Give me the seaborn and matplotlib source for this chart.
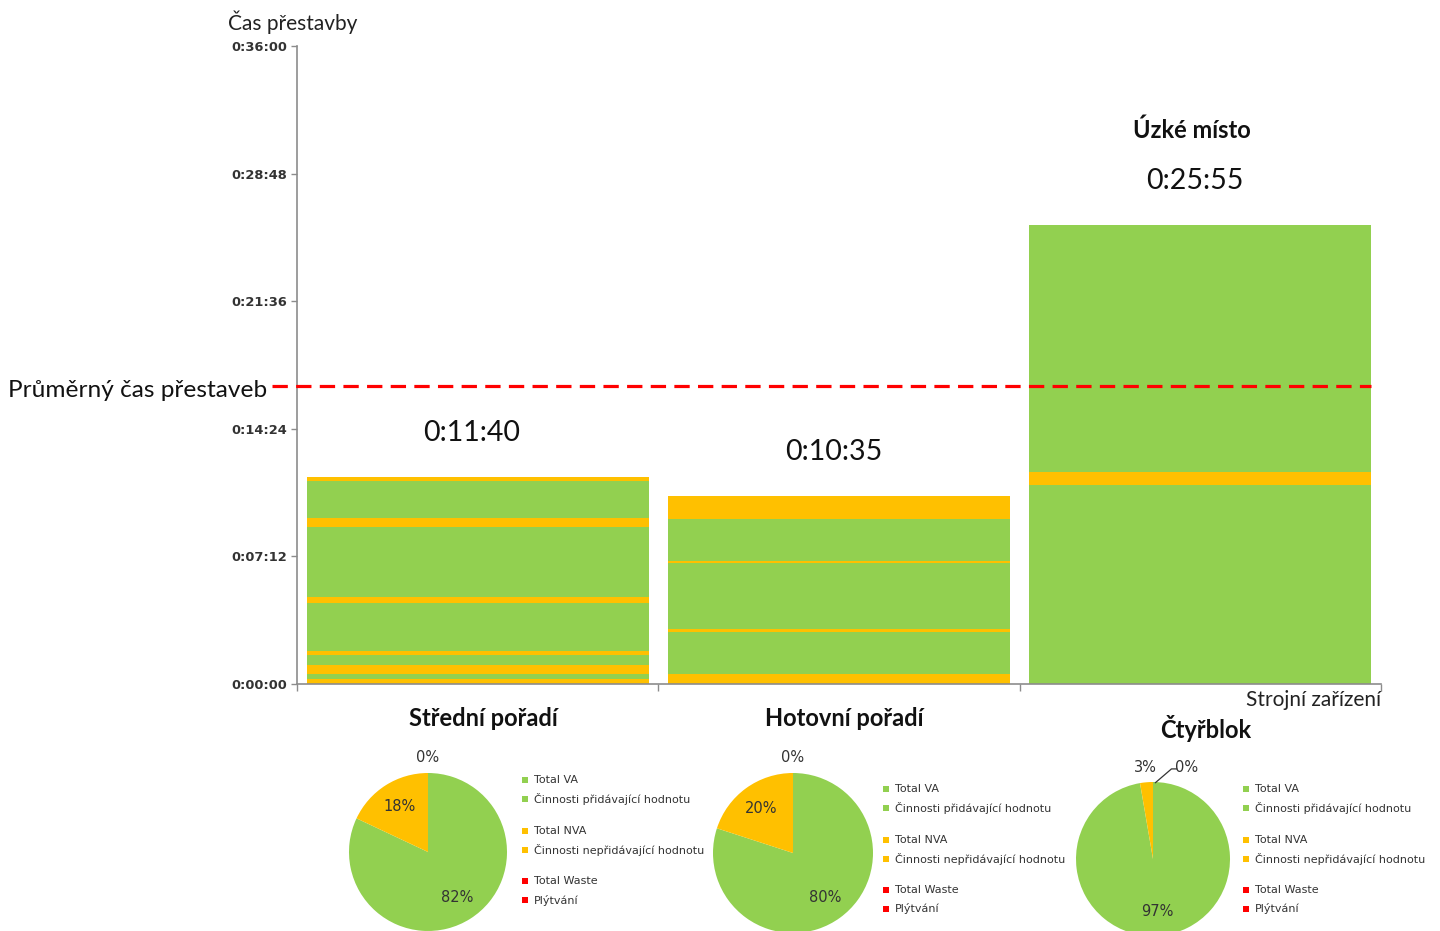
import numpy as np
import matplotlib
matplotlib.use("Agg")
import matplotlib.pyplot as plt
from matplotlib.ticker import FuncFormatter
from matplotlib.patches import Rectangle
from matplotlib.transforms import blended_transform_factory, offset_copy
import seaborn as sns

# ---- data -------------------------------------------------------------
categories = ["Střední pořadí", "Hotovní pořadí", "Čtyřblok"]

# changeover steps of each machine, bottom to top, in seconds
steps_stredni_s = [16, 17, 31, 35, 14, 160, 20, 238, 32, 124, 13]
steps_stredni_type = ["NVA", "VA", "NVA", "VA", "NVA", "VA", "NVA", "VA", "NVA", "VA", "NVA"]

steps_hotovni_s = [33, 144, 10, 223, 7, 141, 77]
steps_hotovni_type = ["NVA", "VA", "NVA", "VA", "NVA", "VA", "NVA"]

steps_ctyrblok_s = [675, 42, 838]
steps_ctyrblok_type = ["VA", "NVA", "VA"]

average_changeover_s = 1008  # 0:16:48

y_ticks_s = [0, 432, 864, 1296, 1728, 2160]

legend_labels = ["Total VA", "Činnosti přidávající hodnotu",
                 "Total NVA", "Činnosti nepřidávající hodnotu",
                 "Total Waste", "Plýtvání"]

# ---- styling ----------------------------------------------------------
GREEN, ORANGE, RED = "#92D050", "#FFC000", "#FF0000"
type_color = {"VA": GREEN, "NVA": ORANGE, "Waste": RED}

sns.set_theme(style="white")
plt.rcParams["font.family"] = ["Lato", "DejaVu Sans"]

W, H = 1440, 931
fig = plt.figure(figsize=(W / 100, H / 100), dpi=100)


def fx(px):
    return px / W


def fy(py):
    return 1 - py / H


def hms(s, _pos=None):
    s = int(round(s))
    return f"{s // 3600}:{(s % 3600) // 60:02d}:{s % 60:02d}"


# ---- main stacked bar chart --------------------------------------------
ax = fig.add_axes([fx(297), fy(684), fx(1381) - fx(297), (684 - 46) / H])

steps = [(steps_stredni_s, steps_stredni_type),
         (steps_hotovni_s, steps_hotovni_type),
         (steps_ctyrblok_s, steps_ctyrblok_type)]
bar_w = 0.947

totals = []
for cat, (secs, kinds) in zip(categories, steps):
    tops = np.cumsum(secs)
    totals.append(tops[-1])
    # draw cumulative heights from the top down so each step shows its own band
    for top, kind in zip(tops[::-1], kinds[::-1]):
        sns.barplot(x=[cat], y=[top], order=categories, color=type_color[kind],
                    saturation=1, width=bar_w, edgecolor="none", linewidth=0,
                    ax=ax)

ax.set_xlim(-0.5, 2.5)
ax.set_ylim(0, y_ticks_s[-1])
ax.set_yticks(y_ticks_s)
ax.yaxis.set_major_formatter(FuncFormatter(hms))
ax.set_xticks([-0.5, 0.5, 1.5, 2.5])
ax.set_xticklabels([])
ax.set_xlabel("")
ax.set_ylabel("")
for side in ("top", "right"):
    ax.spines[side].set_visible(False)
for side in ("left", "bottom"):
    ax.spines[side].set_color("#8c8c8c")
    ax.spines[side].set_linewidth(1.2)
ax.tick_params(axis="y", which="major", direction="out", length=4, width=1,
               color="#8c8c8c", labelsize=9.4, labelcolor="#333333", pad=3,
               left=True)
ax.tick_params(axis="x", which="major", direction="out", length=5, width=1,
               color="#8c8c8c", bottom=True)
for lab in ax.get_yticklabels():
    lab.set_fontfamily("DejaVu Sans")
    lab.set_fontweight("bold")

# average changeover line
ax.hlines(average_changeover_s, -0.57, 2 + bar_w / 2, colors=RED,
          linestyles=(0, (4.8, 2.6)), linewidth=2.3, clip_on=False, zorder=5)
trans_fig_data = blended_transform_factory(fig.transFigure, ax.transData)
ax.text(fx(8), average_changeover_s, "Průměrný čas přestaveb",
        transform=offset_copy(trans_fig_data, fig=fig, y=-4, units="dots"),
        ha="left", va="center", fontsize=17.6, color="#111111")

# totals above the bars
bottleneck = int(np.argmax(totals))
for i, tot in enumerate(totals):
    ax.annotate(hms(tot), xy=(i, tot), xytext=(-4, 44 * 0.72),
                textcoords="offset points", ha="center", va="center",
                fontsize=20.5, color="#111111")
    if i == bottleneck:
        ax.annotate("Úzké místo", xy=(i, tot), xytext=(-6, 94 * 0.72),
                    textcoords="offset points", ha="center", va="center",
                    fontsize=17, fontweight="bold", color="#111111")

# machine names under the bars
name_drop_px = [35, 35, 44]
for i, name in enumerate(categories):
    ax.annotate(name, xy=(i, 0), xytext=(4, -name_drop_px[i] * 0.72),
                textcoords="offset points", ha="center", va="center",
                fontsize=17, fontweight="bold", color="#111111")

ax.annotate("Strojní zařízení", xy=(1, 0), xycoords="axes fraction",
            xytext=(0, -16 * 0.72), textcoords="offset points",
            ha="right", va="center", fontsize=15, color="#222222")

fig.text(fx(228), fy(22), "Čas přestavby", ha="left", va="center",
         fontsize=15, color="#222222")

# ---- VA / NVA / waste pies ---------------------------------------------
pie_geom = [(428, 852, 79), (793, 853, 80), (1153, 859, 77)]
legend_origin = [(522, 780), (883, 789), (1243, 789)]
legend_rows_px = [0, 19, 51, 70, 101, 120]
legend_colors = [GREEN, GREEN, ORANGE, ORANGE, RED, RED]

for k, (secs, kinds) in enumerate(steps):
    va = sum(s for s, t in zip(secs, kinds) if t == "VA")
    nva = sum(s for s, t in zip(secs, kinds) if t == "NVA")
    waste = sum(s for s, t in zip(secs, kinds) if t == "Waste")
    vals = [va, nva, waste]
    total = sum(vals)

    cx, cy, r = pie_geom[k]
    pax = fig.add_axes([fx(cx - r), fy(cy + r), 2 * r / W, 2 * r / H])
    pax.pie(vals, colors=[GREEN, ORANGE, RED], startangle=90,
            counterclock=False, radius=1, wedgeprops=dict(linewidth=0))
    pax.set_xlim(-1, 1)
    pax.set_ylim(-1, 1)
    pax.set_aspect("equal")
    pax.axis("off")

    cum = 0
    prev_small = False
    for v in vals:
        frac = v / total
        mid = np.deg2rad(90 - 360 * (cum + v / 2) / total)
        label = f"{round(100 * frac)}%"
        style = dict(ha="center", va="center", fontsize=10.5,
                     color="#333333", family="DejaVu Sans", clip_on=False)
        if frac >= 0.1:
            d = 0.68
            pax.text(d * np.cos(mid), d * np.sin(mid), label, **style)
            prev_small = False
        elif v > 0:
            d = 1.19
            pax.text(d * np.cos(mid), d * np.sin(mid), label, **style)
            prev_small = True
        else:
            if prev_small:
                pax.plot([0.03, 0.24, 0.31], [0.99, 1.17, 1.17],
                         color="#333333", lw=0.9, clip_on=False)
                pax.text(0.44, 1.19, label, **style)
            else:
                pax.text(0, 1.2, label, **style)
        cum += v

    lx, ly = legend_origin[k]
    for row, lab, col in zip(legend_rows_px, legend_labels, legend_colors):
        yy = ly + row
        fig.add_artist(Rectangle((fx(lx), fy(yy + 3)), 6 / W, 6 / H,
                                 transform=fig.transFigure, color=col,
                                 linewidth=0))
        fig.text(fx(lx + 12), fy(yy), lab, ha="left", va="center",
                 fontsize=8, color="#333333", family="DejaVu Sans")

fig.savefig("out.png", dpi=100)
